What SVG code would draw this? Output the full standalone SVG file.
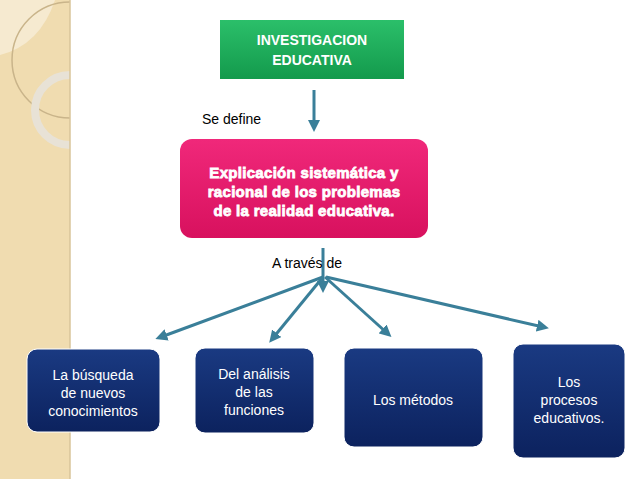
<svg xmlns="http://www.w3.org/2000/svg" width="638" height="479" viewBox="0 0 638 479">
<defs>
<marker id="ah" markerWidth="4" markerHeight="4" refX="2" refY="2" orient="auto" markerUnits="strokeWidth"><path d="M0,0 L4,2 L0,4 z" fill="#3a7f99"/></marker>
<linearGradient id="nav" x1="0" y1="0" x2="0" y2="1"><stop offset="0" stop-color="#1a3a82"/><stop offset="1" stop-color="#0c225e"/></linearGradient>
<linearGradient id="grn" x1="0" y1="0" x2="0" y2="1"><stop offset="0" stop-color="#2bbf6a"/><stop offset="1" stop-color="#139a4c"/></linearGradient>
<linearGradient id="pnk" x1="0" y1="0" x2="0" y2="1"><stop offset="0" stop-color="#f0287a"/><stop offset="1" stop-color="#d8115e"/></linearGradient>
<clipPath id="strip"><rect x="0" y="0" width="70" height="479"/></clipPath>
<style>
.con{stroke:#3a7f99;stroke-width:3;fill:none}
.nb{fill:url(#nav);stroke:#fff;stroke-width:1}
.nt{font-family:"Liberation Sans",Arial,sans-serif;font-size:14px;fill:#fff;text-anchor:middle}
.pt{font-family:"Liberation Sans",Arial,sans-serif;font-size:15px;font-weight:bold;fill:#fff;stroke:#fff;stroke-width:0.8;text-anchor:middle;letter-spacing:0.3px}
.lb{font-family:"Liberation Sans",Arial,sans-serif;font-size:14px;fill:#000}
</style>
</defs>
<rect width="638" height="479" fill="#fff"/>
<rect x="0" y="0" width="70" height="479" fill="#f0dcb0"/>
<g clip-path="url(#strip)">
<path d="M0,0 H55 Q40,45 0,55 z" fill="#f6ead0"/>
<circle cx="70" cy="60" r="58" fill="none" stroke="#c9b48a" stroke-width="1.5"/>
<circle cx="70" cy="110" r="35" fill="none" stroke="#e8e2d6" stroke-width="8"/>
</g>
<line x1="70" y1="0" x2="70" y2="479" stroke="#d9c49a" stroke-width="1.5"/>
<g id="n-investigacion"><rect x="220" y="20" width="184" height="59" fill="url(#grn)"/>
<text class="nt" font-weight="bold" font-size="15" x="312" y="45">INVESTIGACION</text><text class="nt" font-weight="bold" font-size="15" x="312" y="65">EDUCATIVA</text></g>
<g id="n-explicacion"><rect x="180" y="139" width="248" height="99" rx="12" fill="url(#pnk)"/>
<text class="pt" x="304" y="178">Explicación sistemática y</text>
<text class="pt" x="304" y="197">racional de los problemas</text>
<text class="pt" x="304" y="216">de la realidad educativa.</text></g>
<g id="n1"><rect class="nb" x="27" y="349" width="133" height="83" rx="10"/>
<text class="nt" x="93" y="380">La búsqueda</text><text class="nt" x="93" y="398">de nuevos</text><text class="nt" x="93" y="416">conocimientos</text></g>
<g id="n2"><rect class="nb" x="195" y="348" width="119" height="85" rx="10"/>
<text class="nt" x="254" y="379">Del análisis</text><text class="nt" x="254" y="397">de las</text><text class="nt" x="254" y="415">funciones</text></g>
<g id="n3"><rect class="nb" x="344" y="348" width="139" height="99" rx="10"/>
<text class="nt" x="413" y="405">Los métodos</text></g>
<g id="n4"><rect class="nb" x="513" y="344" width="112" height="114" rx="10"/>
<text class="nt" x="569" y="387">Los</text><text class="nt" x="569" y="405">procesos</text><text class="nt" x="569" y="423">educativos.</text></g>
<g id="connectors">
<line class="con" x1="314" y1="90" x2="314" y2="126" marker-end="url(#ah)"/>
<line class="con" x1="323" y1="248" x2="323" y2="287" marker-end="url(#ah)"/>
<line class="con" x1="323" y1="277" x2="161" y2="337" marker-end="url(#ah)"/>
<line class="con" x1="323" y1="277" x2="273" y2="338" marker-end="url(#ah)"/>
<line class="con" x1="325" y1="277" x2="387" y2="333" marker-end="url(#ah)"/>
<line class="con" x1="326" y1="277" x2="543" y2="327" marker-end="url(#ah)"/>
</g>
<text class="lb" x="202" y="124">Se define</text>
<text class="lb" x="272" y="268">A través de</text>
</svg>
